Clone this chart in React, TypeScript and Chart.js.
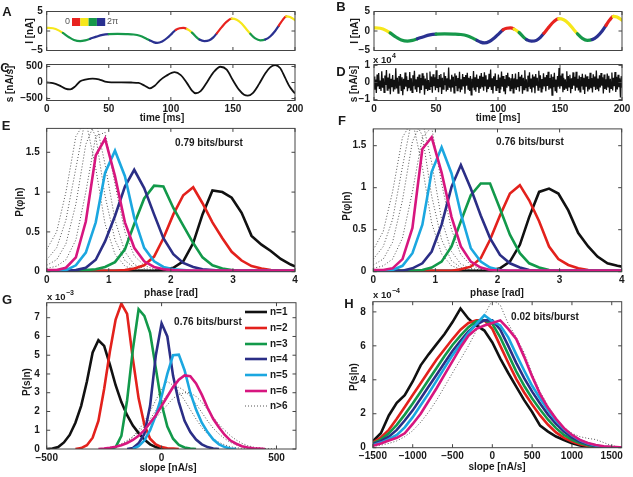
import React, { useEffect, useRef } from "react";
import { Chart, registerables } from "chart.js";

Chart.register(...registerables);

// ---------------- data ----------------
// A / B : injected current I(t) [nA], each segment coloured by its phase bin (0 red, 1 yellow, 2 green, 3 blue)
const timeA = [0, 5, 10, 13, 18, 22, 27, 31, 35, 40, 45, 50, 57, 64, 70, 75, 80, 83, 86, 89, 93, 97, 101, 104, 107, 110, 113, 117, 121, 123, 127, 131, 134, 137, 141, 145, 149, 153, 157, 161, 164, 168, 172, 176, 180, 184, 187, 190, 193, 196, 200];
const currentA = [0.8, 0.7, 0.1, -0.5, -1.6, -2.3, -2.6, -2.4, -2.0, -1.45, -1.0, -0.8, -0.75, -0.8, -0.9, -1.2, -1.9, -2.4, -2.85, -3.05, -2.7, -1.8, -0.6, 0.3, 0.7, 0.8, 0.5, -0.4, -1.7, -2.2, -2.6, -2.4, -1.7, -0.6, 1.0, 2.4, 3.15, 2.9, 1.9, 0.4, -0.7, -1.9, -2.4, -2.2, -1.4, 0.0, 1.4, 2.8, 3.75, 3.6, 2.8];
const phaseBinA = [1, 1, 1, 2, 2, 2, 2, 2, 3, 3, 3, 2, 2, 2, 2, 2, 2, 3, 3, 3, 3, 3, 3, 0, 0, 0, 1, 2, 2, 3, 3, 3, 3, 0, 0, 0, 1, 1, 1, 1, 2, 2, 2, 3, 3, 3, 0, 0, 1, 1, 1];
const phaseBinColors = ["#e8231f", "#f6e71b", "#16984a", "#2a3191"];

// C : slope s(t) [nA/s]
const timeC = [0, 5, 10, 15, 19, 23, 27, 31, 37, 42, 47, 52, 60, 68, 74, 79, 83, 87, 91, 96, 103, 108, 113, 117, 120, 124, 129, 134, 140, 145, 150, 155, 159, 162, 166, 171, 176, 180, 184, 188, 192, 196, 200];
const slopeC = [0, -20, -90, -190, -215, -120, 40, 90, 120, 100, 30, 5, 5, 0, -15, -100, -180, -100, 60, 200, 320, 230, -20, -250, -335, -270, 0, 300, 490, 400, 70, -230, -380, -410, -330, -50, 280, 470, 540, 450, 150, -150, -340];

// D : slope of the noisy current, in hundreds of nA/s
const noiseD = [
  35, -42, 18, -61, 47, -23, 55, -38, 12, -50, 66, -31, 24, -57, 41, -15, 73, -44, 29, -36,
  52, -68, 21, -27, 44, -53, 16, -41, 83, -35, 27, -62, 38, -19, 49, -46, 31, -74, 22, -39,
  58, -25, 36, -51, 14, -33, 61, -48, 25, -58, 42, -21, 69, -37, 19, -55, 33, -28, 47, -63,
  26, -44, 54, -17, 39, -71, 23, -34, 57, -49, 15, -40, 64, -26, 35, -59, 48, -22, 30, -45,
  71, -32, 20, -56, 43, -24, 50, -67, 28, -38, 59, -16, 37, -52, 24, -43, 88, -30, 17, -54,
  45, -29, 34, -60, 53, -20, 41, -47, 26, -35, 62, -57, 19, -42, 50, -23, 32, -65, 44, -18,
  56, -39, 27, -50, 38, -72, 22, -31, 67, -45, 30, -54, 46, -27, 21, -61, 39, -36, 55, -24,
  33, -48, 60, -19, 42, -56, 17, -37, 51, -28, 76, -43, 25, -64, 36, -21, 53, -46, 14, -34,
  47, -58, 29, -40, 64, -25, 38, -52, 20, -69, 43, -30, 57, -22, 31, -47, 25, -38, 49, -60,
  24, -35, 52, -44, 18, -27, 61, -53, 34, -20, 45, -66, 28, -41, 72, -33, 19, -49, 40, -26,
  59, -37, 23, -58, 46, -29, 35, -63, 50, -18, 27, -45, 68, -31, 42, -55, 21, -39, 54, -23,
  30, -51, 44, -20, 62, -42, 26, -35, 48, -74, 33, -28, 56, -47, 17, -60, 38, -24, 85, -36,
  41, -22, 53, -57, 28, -43, 19, -32, 66, -50, 37, -26, 45, -62, 24, -38, 59, -19, 34, -48,
  63, -30, 21, -46, 40, -55, 32, -23, 51, -39, 28, -67, 47, -25, 36, -52, 20, -41, 57, -33,
  26, -58, 48, -21, 35, -44, 70, -36, 23, -51, 42, -29, 55, -18, 31, -64, 46, -37, 18, -43,
  52, -26, 39, -60, 22, -34, 58, -47, 27, -22, 61, -55, 33, -40, 45, -28, 24, -87, 37, -31,
];

// E / F : P(phase | n)
const phaseGrid = [0, 0.16, 0.31, 0.47, 0.63, 0.79, 0.94, 1.10, 1.26, 1.41, 1.57, 1.73, 1.88, 2.04, 2.20, 2.36, 2.51, 2.67, 2.83, 2.98, 3.14, 3.30, 3.46, 3.61, 3.77, 3.93, 4.08];
const phaseE_n1 = [0.01, 0.01, 0.01, 0.01, 0.01, 0.01, 0.01, 0.01, 0.01, 0.01, 0.01, 0.01, 0.02, 0.05, 0.13, 0.36, 0.72, 1.02, 1.0, 0.93, 0.74, 0.45, 0.34, 0.26, 0.16, 0.09, 0.04];
const phaseE_n2 = [0.01, 0.01, 0.01, 0.01, 0.01, 0.01, 0.01, 0.01, 0.02, 0.04, 0.08, 0.19, 0.42, 0.72, 0.96, 1.06, 0.86, 0.62, 0.42, 0.25, 0.14, 0.07, 0.04, 0.02, 0.01, 0.01, 0.01];
const phaseE_n3 = [0.01, 0.01, 0.01, 0.01, 0.02, 0.03, 0.06, 0.12, 0.28, 0.6, 0.92, 1.08, 1.07, 0.8, 0.58, 0.36, 0.18, 0.08, 0.04, 0.02, 0.01, 0.01, 0.01, 0.01, 0.01, 0.01, 0.01];
const phaseE_n4 = [0.01, 0.01, 0.01, 0.02, 0.05, 0.15, 0.38, 0.7, 1.07, 1.28, 1.05, 0.72, 0.42, 0.22, 0.11, 0.06, 0.03, 0.02, 0.01, 0.01, 0.01, 0.01, 0.01, 0.01, 0.01, 0.01, 0.01];
const phaseE_n5 = [0.01, 0.01, 0.02, 0.08, 0.24, 0.62, 1.24, 1.52, 1.2, 0.68, 0.3, 0.13, 0.06, 0.03, 0.02, 0.01, 0.01, 0.01, 0.01, 0.01, 0.01, 0.01, 0.01, 0.01, 0.01, 0.01, 0.01];
const phaseE_n6 = [0.02, 0.02, 0.05, 0.18, 0.63, 1.46, 1.67, 1.2, 0.62, 0.3, 0.13, 0.06, 0.03, 0.02, 0.015, 0.015, 0.015, 0.015, 0.015, 0.015, 0.015, 0.015, 0.015, 0.015, 0.015, 0.015, 0.015];
const phaseE_n7 = [0.04, 0.07, 0.15, 0.4, 1.0, 1.7, 1.75, 1.1, 0.5, 0.2, 0.08, 0.03, 0.02, 0.01];
const phaseE_n8 = [0.08, 0.15, 0.35, 0.85, 1.6, 1.9, 1.35, 0.65, 0.25, 0.09, 0.04, 0.02, 0.01];
const phaseE_n9 = [0.15, 0.3, 0.65, 1.3, 1.95, 1.7, 0.95, 0.4, 0.14, 0.05, 0.02, 0.01];
const phaseE_n10 = [0.28, 0.5, 1.0, 1.7, 1.9, 1.3, 0.6, 0.22, 0.07, 0.03, 0.02, 0.01];

const phaseF_n1 = [0.01, 0.01, 0.01, 0.01, 0.01, 0.01, 0.01, 0.01, 0.01, 0.01, 0.01, 0.01, 0.01, 0.04, 0.12, 0.32, 0.65, 0.95, 0.99, 0.93, 0.73, 0.46, 0.3, 0.18, 0.1, 0.07, 0.05];
const phaseF_n2 = [0.01, 0.01, 0.01, 0.01, 0.01, 0.01, 0.01, 0.01, 0.01, 0.03, 0.06, 0.16, 0.38, 0.67, 0.93, 1.03, 0.85, 0.6, 0.3, 0.15, 0.08, 0.04, 0.02, 0.01, 0.01, 0.01, 0.01];
const phaseF_n3 = [0.01, 0.01, 0.01, 0.01, 0.01, 0.02, 0.05, 0.12, 0.3, 0.6, 0.91, 1.05, 1.05, 0.75, 0.44, 0.22, 0.1, 0.05, 0.02, 0.01, 0.01, 0.01, 0.01, 0.01, 0.01, 0.01, 0.01];
const phaseF_n4 = [0.01, 0.01, 0.01, 0.01, 0.04, 0.1, 0.24, 0.56, 1.01, 1.27, 0.99, 0.67, 0.4, 0.2, 0.1, 0.05, 0.02, 0.01, 0.01, 0.01, 0.01, 0.01, 0.01, 0.01, 0.01, 0.01, 0.01];
const phaseF_n5 = [0.01, 0.01, 0.02, 0.07, 0.22, 0.56, 1.19, 1.48, 1.17, 0.69, 0.28, 0.12, 0.05, 0.02, 0.01, 0.01, 0.01, 0.01, 0.01, 0.01, 0.01, 0.01, 0.01, 0.01, 0.01, 0.01, 0.01];
const phaseF_n6 = [0.02, 0.02, 0.04, 0.15, 0.52, 1.46, 1.6, 1.18, 0.65, 0.3, 0.12, 0.05, 0.02, 0.015, 0.015, 0.015, 0.015, 0.015, 0.015, 0.015, 0.015, 0.015, 0.015, 0.015, 0.015, 0.015, 0.015];
const phaseF_n7 = [0.04, 0.07, 0.15, 0.4, 0.95, 1.6, 1.72, 1.05, 0.5, 0.2, 0.08, 0.03, 0.02, 0.01];
const phaseF_n8 = [0.08, 0.15, 0.35, 0.85, 1.55, 1.8, 1.3, 0.62, 0.24, 0.09, 0.04, 0.02, 0.01];
const phaseF_n9 = [0.15, 0.3, 0.62, 1.25, 1.85, 1.62, 0.9, 0.38, 0.13, 0.05, 0.02, 0.01];
const phaseF_n10 = [0.26, 0.48, 0.95, 1.6, 1.8, 1.25, 0.58, 0.21, 0.07, 0.03, 0.02, 0.01];

// G : P(slope | n) x 10^-3
const slopeGridG = [-500, -475, -450, -425, -400, -375, -350, -325, -300, -275, -250, -225, -200, -175, -150, -125, -100, -75, -50, -25, 0, 25, 50, 75, 100, 125, 150, 175, 200, 225, 250, 275, 300, 325, 350, 375, 400, 425, 450, 475, 500, 525, 550, 575];
const slopeG_n1 = [0, 0.02, 0.1, 0.35, 0.75, 1.4, 2.3, 3.6, 5.15, 5.8, 5.5, 4.5, 3.4, 2.5, 1.8, 1.25, 0.85, 0.5, 0.25, 0.1, 0.03, 0];
const slopeG_n2 = [null, null, null, null, null, 0, 0.05, 0.2, 0.6, 1.5, 3.2, 5.2, 6.9, 7.75, 7.2, 4.8, 2.7, 1.3, 0.55, 0.25, 0.1, 0.04, 0.02, 0];
const slopeG_n3 = [null, null, null, null, null, null, null, null, null, null, null, 0, 0.1, 0.7, 2.6, 5.3, 7.45, 7.1, 6.2, 4.3, 2.4, 1.2, 0.55, 0.22, 0.08, 0.03, 0];
const slopeG_n4 = [null, null, null, null, null, null, null, null, null, null, null, null, null, null, 0, 0.05, 0.3, 0.8, 2.3, 5.0, 6.7, 6.0, 3.9, 2.5, 1.5, 0.9, 0.5, 0.25, 0.1, 0.03, 0];
const slopeG_n5 = [null, null, null, null, null, null, null, null, null, null, null, null, null, null, null, 0, 0.15, 0.45, 1.0, 1.8, 2.8, 4.0, 5.0, 5.03, 4.2, 3.0, 2.1, 1.4, 0.9, 0.5, 0.25, 0.1, 0.03, 0];
const slopeG_n6 = [null, null, null, null, null, null, null, null, null, 0, 0.03, 0.07, 0.12, 0.2, 0.32, 0.48, 0.7, 1.0, 1.4, 1.8, 2.3, 2.8, 3.3, 3.7, 3.92, 3.88, 3.5, 2.9, 2.2, 1.6, 1.15, 0.75, 0.45, 0.28, 0.15, 0.08, 0.04, 0.02, 0];
const slopeG_n7 = [null, null, null, null, null, null, null, null, null, null, 0, 0.04, 0.1, 0.22, 0.4, 0.65, 1.0, 1.45, 2.0, 2.6, 3.2, 3.6, 3.4, 3.05, 2.6, 2.1, 1.6, 1.15, 0.8, 0.55, 0.35, 0.22, 0.12, 0.07, 0.04, 0.02, 0];
const slopeG_n8 = [null, null, null, null, null, null, null, null, null, null, 0.02, 0.08, 0.15, 0.28, 0.45, 0.65, 0.9, 1.2, 1.6, 2.05, 2.5, 2.9, 3.2, 3.3, 3.1, 2.8, 2.4, 1.95, 1.5, 1.1, 0.8, 0.55, 0.35, 0.22, 0.12, 0.07, 0.04, 0.02, 0];
const slopeG_n9 = [null, null, null, null, null, null, null, null, null, null, null, 0.05, 0.1, 0.18, 0.3, 0.48, 0.7, 0.98, 1.3, 1.65, 2.0, 2.35, 2.7, 2.9, 3.0, 3.0, 2.8, 2.5, 2.1, 1.7, 1.3, 1.0, 0.7, 0.48, 0.3, 0.18, 0.1, 0.06, 0.03, 0.01, 0];

// H : P(slope | n) x 10^-4
const slopeGridH = [-1500, -1400, -1300, -1200, -1100, -1000, -900, -800, -700, -600, -500, -400, -300, -200, -100, 0, 100, 200, 300, 400, 500, 600, 700, 800, 900, 1000, 1100, 1200, 1300, 1400, 1500, 1600, 1700];
const slopeH_n1 = [0.38, 0.85, 1.9, 2.65, 3.1, 3.9, 4.85, 5.5, 6.1, 6.7, 7.4, 8.2, 7.6, 7.2, 6.9, 6.2, 5.25, 4.4, 3.6, 2.8, 2.1, 1.3, 0.95, 0.66, 0.45, 0.26, 0.13, 0.06, 0.02, 0.01, 0, 0, 0];
const slopeH_n2 = [0.3, 0.6, 1.05, 1.7, 2.4, 3.1, 3.8, 4.5, 5.2, 5.8, 6.4, 6.95, 7.35, 7.5, 7.5, 7.0, 6.0, 5.0, 4.05, 3.25, 2.55, 1.9, 1.35, 0.9, 0.58, 0.36, 0.2, 0.1, 0.04, 0.02, 0.01, 0, 0];
const slopeH_n3 = [0.25, 0.48, 0.85, 1.35, 1.95, 2.6, 3.3, 4.0, 4.7, 5.4, 6.05, 6.6, 7.1, 7.45, 7.5, 7.3, 6.5, 5.5, 4.5, 3.65, 2.9, 2.25, 1.65, 1.15, 0.75, 0.47, 0.28, 0.15, 0.07, 0.03, 0.01, 0, 0];
const slopeH_n4 = [0.2, 0.38, 0.65, 1.05, 1.6, 2.2, 2.9, 3.6, 4.3, 5.0, 5.7, 6.3, 6.85, 7.25, 7.5, 7.5, 6.95, 6.0, 5.0, 4.1, 3.3, 2.6, 1.95, 1.4, 0.95, 0.6, 0.36, 0.2, 0.1, 0.04, 0.02, 0.01, 0];
const slopeH_n5 = [0.15, 0.3, 0.5, 0.75, 1.2, 1.8, 2.5, 3.2, 3.95, 4.7, 5.45, 6.1, 6.75, 7.3, 7.8, 7.45, 7.2, 6.5, 5.5, 4.55, 3.65, 2.9, 2.2, 1.6, 1.1, 0.72, 0.44, 0.25, 0.13, 0.06, 0.03, 0.01, 0];
const slopeH_n6 = [0.12, 0.25, 0.42, 0.58, 0.85, 1.4, 2.0, 2.75, 3.5, 4.3, 5.1, 5.9, 6.6, 7.0, 7.2, 7.35, 7.5, 7.0, 6.4, 5.35, 4.2, 3.15, 2.35, 1.7, 1.15, 0.75, 0.46, 0.28, 0.16, 0.09, 0.05, 0.03, 0.02];
const slopeH_n7 = [0.08, 0.15, 0.25, 0.4, 0.65, 1.0, 1.5, 2.1, 2.8, 3.6, 4.4, 5.2, 6.0, 6.9, 7.8, 8.7, 8.4, 7.3, 6.5, 5.6, 4.35, 3.3, 2.45, 1.75, 1.2, 0.85, 0.65, 0.55, 0.48, 0.3, 0.12, 0.04, 0];

const seriesLabels = ["n=1", "n=2", "n=3", "n=4", "n=5", "n=6", "n>6"];
const seriesColors = ["#111111", "#e3211c", "#12994a", "#2b2e86", "#1ba7e0", "#d7167f"];
const dotColor = "#555555";

// tick values
const ticksTime = [0, 50, 100, 150, 200];
const ticksI = [-5, 0, 5];
const ticksSlopeC = [-500, 0, 500];
const ticksSlopeD = [-10000, 0, 10000];
const ticksPhase = [0, 1, 2, 3, 4];
const ticksPphase = [0, 0.5, 1, 1.5];
const ticksSlopeG = [-500, 0, 500];
const ticksPG = [0, 1, 2, 3, 4, 5, 6, 7];
const ticksSlopeH = [-1500, -1000, -500, 0, 500, 1000, 1500];
const ticksPH = [0, 2, 4, 6, 8];

// ---------------- layout / drawing ----------------
const FONT = "'Liberation Sans', Arial, Helvetica, sans-serif";
const W = 633;
const H = 477;
const YW = 40;
const XH = 22;
const TICK = 3.5;
const TXT = "#1a1a1a";

type Txt = { s: string; x: number; y: number; size?: number; bold?: boolean; align?: CanvasTextAlign; rot?: boolean; color?: string; sup?: string };
type Axis = { min: number; max: number; ticks: number[]; labels: boolean; pad: number; fmt?: (v: number) => string };
type Panel = { rect: number[]; x: Axis; y: Axis; datasets: any[]; texts: Txt[]; extra?: (ctx: CanvasRenderingContext2D) => void };

const pts = (xs: number[], ys: (number | null)[]) =>
  ys.map((y, i) => ({ x: xs[i], y })).filter((p) => p.y !== null && p.y !== undefined);

const solid = (xs: number[], ys: (number | null)[], color: string, width: number, order: number) => ({
  data: pts(xs, ys), borderColor: color, borderWidth: width, pointRadius: 0, fill: false, order,
});
const dotted = (xs: number[], ys: (number | null)[]) => ({
  data: pts(xs, ys), borderColor: dotColor, borderWidth: 1, borderDash: [1, 2], pointRadius: 0, fill: false, order: 10,
});
const distSets = (xs: number[], curves: (number | null)[][], dots: (number | null)[][]) => [
  ...curves.map((ys, i) => solid(xs, ys, seriesColors[i], 2.6, 6 - i)),
  ...dots.map((ys) => dotted(xs, ys)),
];

const phaseLine = (width: number) => ({
  data: pts(timeA, currentA),
  borderWidth: width,
  borderColor: phaseBinColors[1],
  borderCapStyle: "round",
  cubicInterpolationMode: "monotone",
  pointRadius: 0,
  fill: false,
  segment: { borderColor: (c: any) => phaseBinColors[phaseBinA[c.p0DataIndex]] },
});

function drawTexts(ctx: CanvasRenderingContext2D, list: Txt[]) {
  for (const t of list) {
    ctx.save();
    ctx.fillStyle = t.color || TXT;
    ctx.font = `${t.bold === false ? "" : "bold "}${t.size || 10}px ${FONT}`;
    ctx.textAlign = t.align || "center";
    ctx.textBaseline = "middle";
    ctx.translate(t.x, t.y);
    if (t.rot) ctx.rotate(-Math.PI / 2);
    ctx.fillText(t.s, 0, 0);
    if (t.sup) {
      const w = ctx.measureText(t.s).width;
      ctx.font = `bold 7px ${FONT}`;
      ctx.textAlign = "left";
      ctx.fillText(t.sup, w + 0.5, -4);
    }
    ctx.restore();
  }
}

const colorbarA = (ctx: CanvasRenderingContext2D) => {
  phaseBinColors.forEach((c, i) => {
    ctx.fillStyle = c;
    ctx.fillRect(72 + i * 8.3, 18, 8.3, 8);
  });
  drawTexts(ctx, [
    { s: "0", x: 70, y: 22, size: 9, bold: false, align: "right", color: "#555" },
    { s: "2π", x: 107, y: 22, size: 9, bold: false, align: "left", color: "#555" },
  ]);
};

const legendRowY = [312, 328, 344, 359, 375, 391, 406];
const legendG = (ctx: CanvasRenderingContext2D) => {
  seriesLabels.forEach((lab, i) => {
    const y = legendRowY[i];
    ctx.save();
    ctx.beginPath();
    ctx.moveTo(245, y);
    ctx.lineTo(267, y);
    if (i < 6) {
      ctx.strokeStyle = seriesColors[i];
      ctx.lineWidth = 2.6;
    } else {
      ctx.strokeStyle = dotColor;
      ctx.lineWidth = 1;
      ctx.setLineDash([1, 2]);
    }
    ctx.stroke();
    ctx.restore();
    drawTexts(ctx, [{ s: lab, x: 270, y, align: "left" }]);
  });
};

const minus = (s: string) => s.replace("-", "\u2212");

const panels: Panel[] = [
  {
    rect: [46.7, 11.5, 295, 50.5],
    x: { min: 0, max: 200, ticks: ticksTime, labels: false, pad: 3 },
    y: { min: -5, max: 5, ticks: ticksI, labels: true, pad: 4 },
    datasets: [phaseLine(2.2)],
    texts: [
      { s: "A", x: 7, y: 12, size: 13 },
      { s: "I [nA]", x: 30, y: 31, rot: true },
    ],
    extra: colorbarA,
  },
  {
    rect: [46.7, 64.5, 295, 100.5],
    x: { min: 0, max: 200, ticks: ticksTime, labels: true, pad: 3 },
    y: { min: -560, max: 560, ticks: ticksSlopeC, labels: true, pad: 4 },
    datasets: [{ ...solid(timeC, slopeC, "#111111", 1.8, 1), cubicInterpolationMode: "monotone" }],
    texts: [
      { s: "C", x: 5, y: 68, size: 13 },
      { s: "s [nA/s]", x: 10, y: 84, rot: true },
      { s: "time [ms]", x: 162, y: 118 },
    ],
  },
  {
    rect: [374, 11.5, 622, 50.5],
    x: { min: 0, max: 200, ticks: ticksTime, labels: false, pad: 3 },
    y: { min: -5, max: 5, ticks: ticksI, labels: true, pad: 4 },
    datasets: [phaseLine(3.2)],
    texts: [
      { s: "B", x: 341, y: 7, size: 13 },
      { s: "I [nA]", x: 355, y: 31, rot: true },
    ],
  },
  {
    rect: [374, 64.5, 622, 100.5],
    x: { min: 0, max: 200, ticks: ticksTime, labels: true, pad: 3 },
    y: { min: -10500, max: 10500, ticks: ticksSlopeD, labels: true, pad: 4, fmt: (v) => String(v / 10000) },
    datasets: [
      {
        data: noiseD.map((v, i) => ({ x: (i * 200) / (noiseD.length - 1), y: v * 100 })),
        borderColor: "#111111", borderWidth: 1.3, pointRadius: 0, fill: false,
      },
    ],
    texts: [
      { s: "D", x: 341, y: 72, size: 13 },
      { s: "s [nA/s]", x: 354, y: 84, rot: true },
      { s: "time [ms]", x: 498, y: 118 },
      { s: "x 10", sup: "4", x: 373, y: 60, align: "left", size: 9.5 },
    ],
  },
  {
    rect: [46.7, 128.4, 295, 271.7],
    x: { min: 0, max: 4, ticks: ticksPhase, labels: true, pad: 3 },
    y: { min: 0, max: 1.8, ticks: ticksPphase, labels: true, pad: 7 },
    datasets: distSets(phaseGrid, [phaseE_n1, phaseE_n2, phaseE_n3, phaseE_n4, phaseE_n5, phaseE_n6], [phaseE_n7, phaseE_n8, phaseE_n9, phaseE_n10]),
    texts: [
      { s: "E", x: 6, y: 126, size: 13 },
      { s: "P(φ|n)", x: 20, y: 202, rot: true },
      { s: "phase [rad]", x: 171, y: 293 },
      { s: "0.79 bits/burst", x: 209, y: 143 },
    ],
  },
  {
    rect: [373.3, 128.9, 621.7, 271.7],
    x: { min: 0, max: 4, ticks: ticksPhase, labels: true, pad: 3 },
    y: { min: 0, max: 1.7, ticks: ticksPphase, labels: true, pad: 7 },
    datasets: distSets(phaseGrid, [phaseF_n1, phaseF_n2, phaseF_n3, phaseF_n4, phaseF_n5, phaseF_n6], [phaseF_n7, phaseF_n8, phaseF_n9, phaseF_n10]),
    texts: [
      { s: "F", x: 342, y: 121, size: 13 },
      { s: "P(φ|n)", x: 347, y: 206, rot: true },
      { s: "phase [rad]", x: 497, y: 293 },
      { s: "0.76 bits/burst", x: 530, y: 142 },
    ],
  },
  {
    rect: [46.7, 302.7, 296, 449],
    x: { min: -500, max: 585, ticks: ticksSlopeG, labels: true, pad: 3 },
    y: { min: 0, max: 7.8, ticks: ticksPG, labels: true, pad: 7 },
    datasets: distSets(slopeGridG, [slopeG_n1, slopeG_n2, slopeG_n3, slopeG_n4, slopeG_n5, slopeG_n6], [slopeG_n7, slopeG_n8, slopeG_n9]),
    texts: [
      { s: "G", x: 7, y: 300, size: 13 },
      { s: "P(s|n)", x: 27, y: 382, rot: true },
      { s: "slope [nA/s]", x: 168, y: 468 },
      { s: "0.76 bits/burst", x: 208, y: 322 },
      { s: "x 10", sup: "\u22123", x: 47, y: 297, align: "left", size: 9.5 },
    ],
    extra: legendG,
  },
  {
    rect: [372.9, 301.7, 621.7, 447.7],
    x: { min: -1500, max: 1625, ticks: ticksSlopeH, labels: true, pad: 3 },
    y: { min: 0, max: 8.6, ticks: ticksPH, labels: true, pad: 7 },
    datasets: distSets(slopeGridH, [slopeH_n1, slopeH_n2, slopeH_n3, slopeH_n4, slopeH_n5, slopeH_n6], [slopeH_n7]),
    texts: [
      { s: "H", x: 349, y: 304, size: 13 },
      { s: "P(s|n)", x: 354, y: 377, rot: true },
      { s: "slope [nA/s]", x: 497, y: 467 },
      { s: "0.02 bits/burst", x: 545, y: 317 },
      { s: "x 10", sup: "\u22124", x: 373, y: 295, align: "left", size: 9.5 },
    ],
  },
];

function buildConfig(p: Panel) {
  const [l, t, r, b] = p.rect;
  const scale = (a: Axis, isX: boolean) => ({
    type: "linear",
    min: a.min,
    max: a.max,
    grid: { display: false, drawTicks: false },
    border: { display: false },
    ticks: {
      display: a.labels,
      padding: a.pad,
      color: TXT,
      autoSkip: false,
      maxRotation: 0,
      minRotation: 0,
      font: { family: FONT, size: 10, weight: "bold" },
      callback: (v: number) => minus(a.fmt ? a.fmt(v) : String(v)),
    },
    afterBuildTicks: (s: any) => {
      s.ticks = a.ticks.map((v) => ({ value: v }));
    },
    afterFit: (s: any) => {
      if (isX) s.height = XH;
      else s.width = YW;
      s.paddingLeft = 0;
      s.paddingRight = 0;
      s.paddingTop = 0;
      s.paddingBottom = 0;
    },
  });
  return {
    type: "line",
    data: { datasets: p.datasets },
    options: {
      responsive: false,
      animation: false,
      devicePixelRatio: 1,
      events: [],
      layout: { padding: { left: l - YW, top: t, right: W - r, bottom: H - b - XH } },
      plugins: { legend: { display: false }, tooltip: { enabled: false } },
      elements: { point: { radius: 0 }, line: { tension: 0 } },
      scales: { x: scale(p.x, true), y: scale(p.y, false) },
    },
    plugins: [
      {
        id: "frame",
        afterDraw(chart: any) {
          const { ctx, chartArea: a, scales } = chart;
          ctx.save();
          ctx.strokeStyle = "#444";
          ctx.lineWidth = 1;
          ctx.strokeRect(a.left, a.top, a.right - a.left, a.bottom - a.top);
          ctx.beginPath();
          for (const v of p.x.ticks) {
            const px = scales.x.getPixelForValue(v);
            ctx.moveTo(px, a.bottom);
            ctx.lineTo(px, a.bottom - TICK);
            ctx.moveTo(px, a.top);
            ctx.lineTo(px, a.top + TICK);
          }
          for (const v of p.y.ticks) {
            const py = scales.y.getPixelForValue(v);
            ctx.moveTo(a.left, py);
            ctx.lineTo(a.left + TICK, py);
            ctx.moveTo(a.right, py);
            ctx.lineTo(a.right - TICK, py);
          }
          ctx.stroke();
          if (p.extra) p.extra(ctx);
          drawTexts(ctx, p.texts);
          ctx.restore();
        },
      },
    ],
  };
}

function PanelCanvas({ panel }: { panel: Panel }) {
  const ref = useRef<HTMLCanvasElement>(null);
  useEffect(() => {
    const chart = new Chart(ref.current as HTMLCanvasElement, buildConfig(panel) as any);
    return () => chart.destroy();
  }, [panel]);
  return (
    <canvas
      ref={ref}
      width={W}
      height={H}
      style={{ position: "absolute", left: 0, top: 0, width: W, height: H }}
    />
  );
}

export default function App() {
  return (
    <div style={{ position: "absolute", left: 0, top: 0, width: W, height: H, background: "#ffffff" }}>
      {panels.map((p, i) => (
        <PanelCanvas key={i} panel={p} />
      ))}
    </div>
  );
}
